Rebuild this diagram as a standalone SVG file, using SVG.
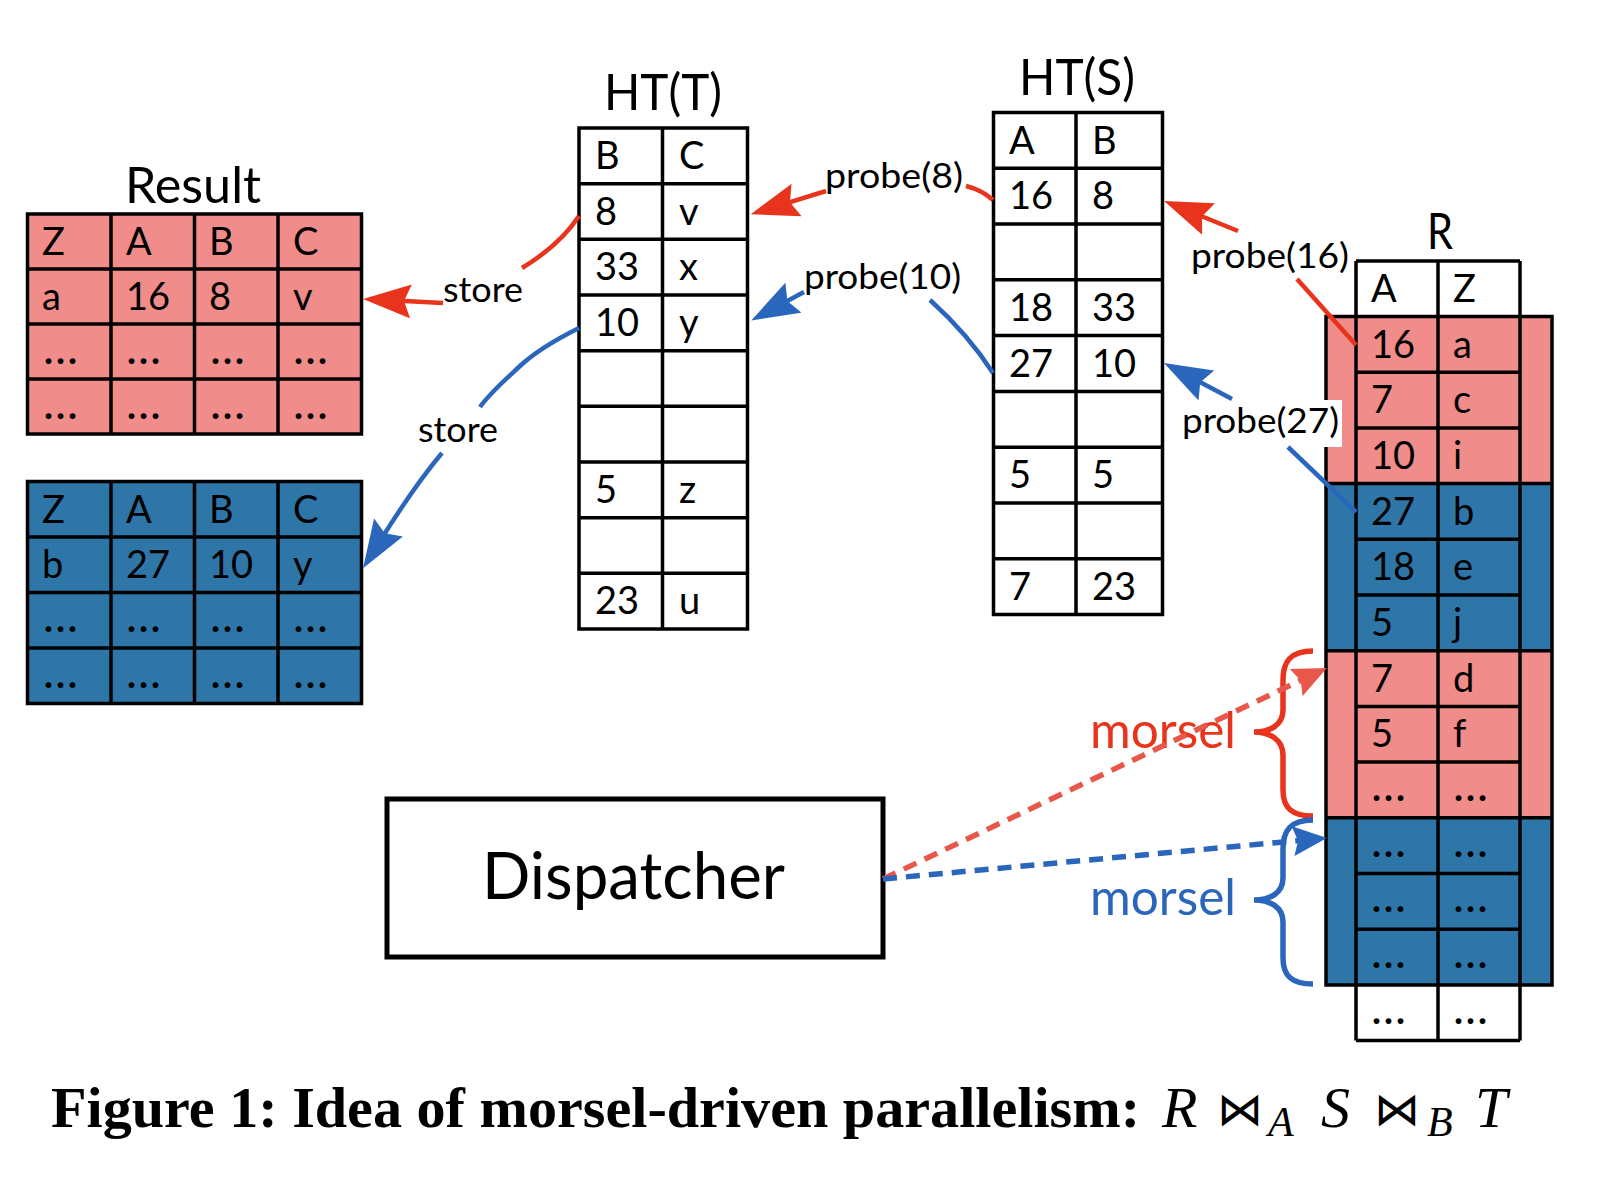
<svg xmlns="http://www.w3.org/2000/svg" width="1606" height="1184" viewBox="0 0 1606 1184">
<style>
.t{font-family:Lato,"Open Sans",sans-serif;font-size:38px;fill:#000}
.d{font-family:Lato,"Open Sans",sans-serif;font-size:38px;font-weight:bold;letter-spacing:3px;fill:#000}
.ti{font-family:Lato,"Open Sans",sans-serif;font-size:50px;fill:#000}
.lb{font-family:Lato,"Open Sans",sans-serif;font-size:35px;fill:#000}
.g{stroke:#000;stroke-width:3.5;fill:none}
.pink{fill:#F08C8A}
.blue{fill:#2E75A8}
.ar{stroke:#E8341C;stroke-width:4.5;fill:none}
.ab{stroke:#2A66BC;stroke-width:4.5;fill:none}
.dr{stroke:#E8574A;stroke-width:5.5;fill:none;stroke-dasharray:14 9}
.db{stroke:#2A66BC;stroke-width:5.5;fill:none;stroke-dasharray:14 9}
.cap{font-family:"Liberation Serif","Times New Roman",serif;font-size:58px;font-weight:bold;fill:#000}
.mi{font-family:"Liberation Serif","Times New Roman",serif;font-style:italic;fill:#000}
.bt{font-family:"DejaVu Sans",sans-serif;fill:#000}
</style>
<defs>
<marker id="hr" markerUnits="userSpaceOnUse" viewBox="0 0 48 34" markerWidth="48" markerHeight="34" refX="16" refY="17" orient="auto"><path d="M0,0 L48,17 L0,34 L7,17 z" fill="#E8341C"/></marker>
<marker id="hb" markerUnits="userSpaceOnUse" viewBox="0 0 48 34" markerWidth="48" markerHeight="34" refX="16" refY="17" orient="auto"><path d="M0,0 L48,17 L0,34 L7,17 z" fill="#2A66BC"/></marker>
<marker id="dhr" markerUnits="userSpaceOnUse" viewBox="0 0 34 30" markerWidth="34" markerHeight="30" refX="12" refY="15" orient="auto"><path d="M0,0 L34,15 L0,30 L5,15 z" fill="#E8574A"/></marker>
<marker id="dhb" markerUnits="userSpaceOnUse" viewBox="0 0 34 30" markerWidth="34" markerHeight="30" refX="12" refY="15" orient="auto"><path d="M0,0 L34,15 L0,30 L5,15 z" fill="#2A66BC"/></marker>
</defs>
<rect width="1606" height="1184" fill="#fff"/>

<g id="result-red">
<text class="ti" x="125" y="203" textLength="136" lengthAdjust="spacingAndGlyphs">Result</text>
<rect class="pink" x="27.5" y="214" width="334" height="220"/>
<path class="g" d="M27.5,214H361.5V434H27.5Z M27.5,269H361.5 M27.5,324H361.5 M27.5,379H361.5 M111,214V434 M194.5,214V434 M278,214V434"/>
<text class="t" x="42" y="255">Z</text><text class="t" x="126" y="255">A</text><text class="t" x="209" y="255">B</text><text class="t" x="293" y="255">C</text>
<text class="t" x="42" y="310">a</text><text class="t" x="126" y="310">16</text><text class="t" x="209" y="310">8</text><text class="t" x="293" y="310">v</text>
<text class="d" x="44" y="364">...</text><text class="d" x="127" y="364">...</text><text class="d" x="211" y="364">...</text><text class="d" x="294" y="364">...</text>
<text class="d" x="44" y="419">...</text><text class="d" x="127" y="419">...</text><text class="d" x="211" y="419">...</text><text class="d" x="294" y="419">...</text>
</g>

<g id="result-blue">
<rect class="blue" x="27.5" y="481.5" width="334" height="222"/>
<path class="g" d="M27.5,481.5H361.5V703.5H27.5Z M27.5,537H361.5 M27.5,592.5H361.5 M27.5,648H361.5 M111,481.5V703.5 M194.5,481.5V703.5 M278,481.5V703.5"/>
<text class="t" x="42" y="522.5">Z</text><text class="t" x="126" y="522.5">A</text><text class="t" x="209" y="522.5">B</text><text class="t" x="293" y="522.5">C</text>
<text class="t" x="42" y="578">b</text><text class="t" x="126" y="578">27</text><text class="t" x="209" y="578">10</text><text class="t" x="293" y="578">y</text>
<text class="d" x="44" y="632">...</text><text class="d" x="127" y="632">...</text><text class="d" x="211" y="632">...</text><text class="d" x="294" y="632">...</text>
<text class="d" x="44" y="688">...</text><text class="d" x="127" y="688">...</text><text class="d" x="211" y="688">...</text><text class="d" x="294" y="688">...</text>
</g>

<g id="ht-t">
<text class="ti" x="604" y="110" textLength="118" lengthAdjust="spacingAndGlyphs">HT(T)</text>
<rect x="579" y="128" width="168.5" height="501" fill="#fff"/>
<path class="g" d="M579,128H747.5V629H579Z M662.5,128V629 M579,183.7H747.5 M579,239.3H747.5 M579,295H747.5 M579,350.7H747.5 M579,406.3H747.5 M579,462H747.5 M579,517.7H747.5 M579,573.3H747.5"/>
<text class="t" x="595" y="169">B</text><text class="t" x="679" y="169">C</text>
<text class="t" x="595" y="224.7">8</text><text class="t" x="679" y="224.7">v</text>
<text class="t" x="595" y="280.3">33</text><text class="t" x="679" y="280.3">x</text>
<text class="t" x="595" y="336">10</text><text class="t" x="679" y="336">y</text>
<text class="t" x="595" y="503">5</text><text class="t" x="679" y="503">z</text>
<text class="t" x="595" y="614.3">23</text><text class="t" x="679" y="614.3">u</text>
</g>

<g id="ht-s">
<text class="ti" x="1019" y="95" textLength="116" lengthAdjust="spacingAndGlyphs">HT(S)</text>
<rect x="993.5" y="112.5" width="169" height="502" fill="#fff"/>
<path class="g" d="M993.5,112.5H1162.5V614.5H993.5Z M1076,112.5V614.5 M993.5,168.3H1162.5 M993.5,224H1162.5 M993.5,279.8H1162.5 M993.5,335.6H1162.5 M993.5,391.4H1162.5 M993.5,447.2H1162.5 M993.5,503H1162.5 M993.5,558.7H1162.5"/>
<text class="t" x="1009" y="153.5">A</text><text class="t" x="1092" y="153.5">B</text>
<text class="t" x="1009" y="209.3">16</text><text class="t" x="1092" y="209.3">8</text>
<text class="t" x="1009" y="320.8">18</text><text class="t" x="1092" y="320.8">33</text>
<text class="t" x="1009" y="376.6">27</text><text class="t" x="1092" y="376.6">10</text>
<text class="t" x="1009" y="488.2">5</text><text class="t" x="1092" y="488.2">5</text>
<text class="t" x="1009" y="599.7">7</text><text class="t" x="1092" y="599.7">23</text>
</g>

<g id="table-r">
<text class="ti" x="1427" y="249" textLength="26" lengthAdjust="spacingAndGlyphs">R</text>
<rect x="1356" y="261" width="164" height="55.5" fill="#fff"/>
<rect class="pink" x="1326" y="316.5" width="226" height="167.1"/>
<rect class="blue" x="1326" y="483.6" width="226" height="167.1"/>
<rect class="pink" x="1326" y="650.7" width="226" height="167.1"/>
<rect class="blue" x="1326" y="817.8" width="226" height="167.1"/>
<rect x="1356" y="984.9" width="164" height="55.7" fill="#fff"/>
<path class="g" d="M1326,316.5H1552V984.9H1326Z M1326,483.6H1552 M1326,650.7H1552 M1326,817.8H1552 M1356,261V1040.6 M1438,261V1040.6 M1520,261V1040.6 M1356,261H1520 M1356,1040.6H1520 M1356,372.2H1520 M1356,427.9H1520 M1356,539.3H1520 M1356,595H1520 M1356,706.4H1520 M1356,762.1H1520 M1356,873.5H1520 M1356,929.2H1520"/>
<text class="t" x="1371" y="302">A</text><text class="t" x="1453" y="302">Z</text>
<text class="t" x="1371" y="357.5">16</text><text class="t" x="1453" y="357.5">a</text>
<text class="t" x="1371" y="413.2">7</text><text class="t" x="1453" y="413.2">c</text>
<text class="t" x="1371" y="468.9">10</text><text class="t" x="1453" y="468.9">i</text>
<text class="t" x="1371" y="524.6">27</text><text class="t" x="1453" y="524.6">b</text>
<text class="t" x="1371" y="580.3">18</text><text class="t" x="1453" y="580.3">e</text>
<text class="t" x="1371" y="636">5</text><text class="t" x="1453" y="636">j</text>
<text class="t" x="1371" y="691.7">7</text><text class="t" x="1453" y="691.7">d</text>
<text class="t" x="1371" y="747.4">5</text><text class="t" x="1453" y="747.4">f</text>
<text class="d" x="1372" y="801">...</text><text class="d" x="1454" y="801">...</text>
<text class="d" x="1372" y="857">...</text><text class="d" x="1454" y="857">...</text>
<text class="d" x="1372" y="912">...</text><text class="d" x="1454" y="912">...</text>
<text class="d" x="1372" y="968">...</text><text class="d" x="1454" y="968">...</text>
<text class="d" x="1372" y="1024">...</text><text class="d" x="1454" y="1024">...</text>
</g>

<g id="dispatcher">
<rect x="387" y="799" width="496" height="158" fill="#fff" stroke="#000" stroke-width="5"/>
<text x="482" y="899" font-family="Lato,'Open Sans',sans-serif" font-size="66" textLength="303" lengthAdjust="spacingAndGlyphs">Dispatcher</text>
</g>

<g id="morsel-braces">
<path d="M1313,651 C1290,651 1283,662 1283,680 L1283,710 C1283,725 1270,732 1254,732 C1270,732 1283,740 1283,755 L1283,790 C1283,808 1292,816 1313,816" fill="none" stroke="#E8341C" stroke-width="5.5"/>
<path d="M1313,820 C1290,820 1283,831 1283,849 L1283,878 C1283,893 1270,900 1254,900 C1270,900 1283,907 1283,922 L1283,958 C1283,976 1292,984 1313,984" fill="none" stroke="#2A66BC" stroke-width="5.5"/>
<text x="1090" y="748" font-family="Lato,'Open Sans',sans-serif" font-size="50" fill="#E8341C" textLength="146" lengthAdjust="spacingAndGlyphs">morsel</text>
<text x="1090" y="915" font-family="Lato,'Open Sans',sans-serif" font-size="50" fill="#2A66BC" textLength="146" lengthAdjust="spacingAndGlyphs">morsel</text>
</g>

<g id="labels">
<rect x="1180" y="400" width="162" height="47" fill="#fff"/>
<text class="lb" x="825" y="188" textLength="138" lengthAdjust="spacingAndGlyphs">probe(8)</text>
<text class="lb" x="804" y="289" textLength="157" lengthAdjust="spacingAndGlyphs">probe(10)</text>
<text class="lb" x="1191" y="268" textLength="158" lengthAdjust="spacingAndGlyphs">probe(16)</text>
<text class="lb" x="1182" y="433" textLength="157" lengthAdjust="spacingAndGlyphs">probe(27)</text>
<text class="lb" x="443" y="302" textLength="80" lengthAdjust="spacingAndGlyphs">store</text>
<text class="lb" x="418" y="442" textLength="80" lengthAdjust="spacingAndGlyphs">store</text>
</g>

<g id="connectors">
<path class="ar" d="M966,186 Q982,190 993,200"/>
<path class="ar" d="M826,191 L781.3,204.8" marker-end="url(#hr)"/>
<path class="ab" d="M930,300 C950,318 975,345 993,373"/>
<path class="ab" d="M804,292 L779.4,305.3" marker-end="url(#hb)"/>
<path class="ar" d="M1356,345 L1297,279"/>
<path class="ar" d="M1238,231 L1193.7,213" marker-end="url(#hr)"/>
<path class="ab" d="M1356,512 L1288,447"/>
<path class="ab" d="M1232,399 L1192.3,378" marker-end="url(#hb)"/>
<path class="ar" d="M579,216 Q560,245 522,268"/>
<path class="ar" d="M443,303 L395,300.6" marker-end="url(#hr)"/>
<path class="ab" d="M579,328 C555,340 535,352 520,366 C505,380 490,393 480,407"/>
<path class="ab" d="M442,453 Q415,485 380,541" marker-end="url(#hb)"/>
<path class="dr" d="M883,879 L1307,677.4" marker-end="url(#dhr)"/>
<path class="db" d="M883,879 L1305,840" marker-end="url(#dhb)"/>
</g>

<g id="caption">
<text class="cap" x="51" y="1127" textLength="1089" lengthAdjust="spacingAndGlyphs">Figure 1: Idea of morsel-driven parallelism:</text>
<text class="mi" x="1162" y="1127" font-size="58">R</text>
<text class="bt" x="1217" y="1125" font-size="46">⋈</text>
<text class="mi" x="1268" y="1136" font-size="42">A</text>
<text class="mi" x="1321" y="1127" font-size="58">S</text>
<text class="bt" x="1374" y="1125" font-size="46">⋈</text>
<text class="mi" x="1427" y="1136" font-size="42">B</text>
<text class="mi" x="1475" y="1127" font-size="58">T</text>
</g>
</svg>
